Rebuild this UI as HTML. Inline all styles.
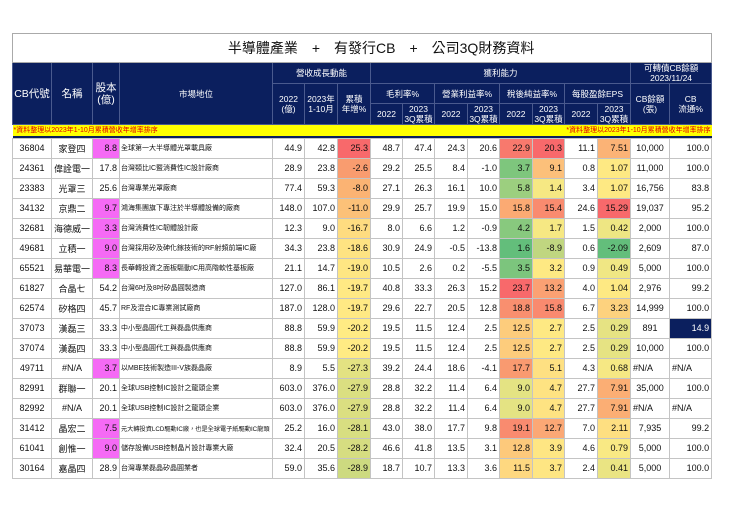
<!DOCTYPE html>
<html><head><meta charset="utf-8">
<style>
body{margin:0;width:740px;height:523px;background:#fff;overflow:hidden;font-family:"Liberation Sans","Noto Sans CJK TC",sans-serif;}
#wrap{position:absolute;left:12px;top:33px;width:699px;}
table{border-collapse:collapse;table-layout:fixed;width:699px;}
td{padding:0 2px;overflow:hidden;white-space:nowrap;font-size:9px;color:#111;border:1px solid #c4c4c4;height:19px;text-align:right;box-sizing:border-box;}
.title td{height:29px;border:1px solid #aaa;font-size:14px;text-align:center;color:#111;padding-left:40px;}
.hd td{background:#0b1f5e;color:#fff;text-align:center;font-size:8.5px;border:1px solid #4a5a8e;line-height:10px;height:auto;padding:0 1px;}
.big{font-size:10.5px !important;line-height:12px !important;}
.yl td{background:#ffff00;color:#e00000;font-size:7px;height:11px;border:none;padding:0 1px;line-height:11px;}
.strip td{background:#0b1f5e;height:2px;border:none;padding:0;}
td.l{text-align:left;font-size:7px;padding-left:1px;}
td.c{text-align:center;}
</style></head><body>
<div id="wrap">
<table id="t">
<colgroup>
<col style="width:39px"><col style="width:41px"><col style="width:27px"><col style="width:153px">
<col style="width:32px"><col style="width:33px"><col style="width:33px">
<col style="width:32px"><col style="width:32px"><col style="width:33px"><col style="width:32px">
<col style="width:33px"><col style="width:32px"><col style="width:33px"><col style="width:33px">
<col style="width:39px"><col style="width:42px">
</colgroup>
<tr class="title"><td colspan="17">半導體產業　+　有發行CB　+　公司3Q財務資料</td></tr>
<tr class="hd" style="height:21px">
<td rowspan="3" class="big">CB代號</td>
<td rowspan="3" class="big">名稱</td>
<td rowspan="3" class="big">股本<br>(億)</td>
<td rowspan="3">市場地位</td>
<td colspan="3">營收成長動能</td>
<td colspan="8">獲利能力</td>
<td colspan="2">可轉債CB餘額<br>2023/11/24</td>
</tr>
<tr class="hd" style="height:20px">
<td rowspan="2">2022<br>(億)</td>
<td rowspan="2">2023年<br>1-10月</td>
<td rowspan="2">累積<br>年增%</td>
<td colspan="2">毛利率%</td>
<td colspan="2">營業利益率%</td>
<td colspan="2">稅後純益率%</td>
<td colspan="2">每股盈餘EPS</td>
<td rowspan="2">CB餘額<br>(張)</td>
<td rowspan="2">CB<br>流通%</td>
</tr>
<tr class="hd" style="height:21px">
<td>2022</td><td>2023<br>3Q累積</td>
<td>2022</td><td>2023<br>3Q累積</td>
<td>2022</td><td>2023<br>3Q累積</td>
<td>2022</td><td>2023<br>3Q累積</td>
</tr>
<tr class="yl">
<td colspan="8" style="text-align:left">*資料整理以2023年1-10月累積營收年增率排序</td>
<td colspan="9" style="text-align:right">*資料整理以2023年1-10月累積營收年增率排序</td>
</tr>
<tr class="strip"><td colspan="17"></td></tr>
</table>
</div>
<script>
const codes=["36804","24361","23383","34132","32681","49681","65521","61827","62574","37073","37074","49711","82991","82992","31412","61041","30164"];
const names=["家登四","偉詮電一","光罩三","京鼎二","海德威一","立積一","易華電一","合晶七","矽格四","漢磊三","漢磊四","#N/A","群聯一","#N/A","晶宏二","創惟一","嘉晶四"];
const capital=["8.8","17.8","25.6","9.7","3.3","9.0","8.3","54.2","45.7","33.3","33.3","3.7","20.1","20.1","7.5","9.0","28.9"];
const capitalHighlight=[1,0,0,1,1,1,1,0,0,0,0,1,0,0,1,1,0];
const market=["全球第一大半導體光罩載具廠","台灣類比IC暨消費性IC設計廠商","台灣專業光罩廠商","鴻海集團旗下專注於半導體設備的廠商","台灣消費性IC韌體設計廠","台灣採用矽及砷化鎵技術的RF射頻前端IC廠","長華轉投資之面板驅動IC用高階軟性基板廠","台灣6吋及8吋矽晶圓製造商","RF及混合IC專業測試廠商","中小型晶圓代工與磊晶供應商","中小型晶圓代工與磊晶供應商","以MBE技術製造III-V族磊晶廠","全球USB控制IC設計之龍頭企業","全球USB控制IC設計之龍頭企業","元大轉投資LCD驅動IC廠，也是全球電子紙驅動IC龍頭","儲存設備USB控制晶片設計專業大廠","台灣專業磊晶矽晶圓業者"];
const rev2022=["44.9","28.9","77.4","148.0","12.3","34.3","21.1","127.0","187.0","88.8","88.8","8.9","603.0","603.0","25.2","32.4","59.0"];
const rev2023=["42.8","23.8","59.3","107.0","9.0","23.8","14.7","86.1","128.0","59.9","59.9","5.5","376.0","376.0","16.0","20.5","35.6"];
const revYoy=["25.3","-2.6","-8.0","-11.0","-16.7","-18.6","-19.0","-19.7","-19.7","-20.2","-20.2","-27.3","-27.9","-27.9","-28.1","-28.2","-28.9"];
const gm2022=["48.7","29.2","27.1","29.9","8.0","30.9","10.5","40.8","29.6","19.5","19.5","39.2","28.8","28.8","43.0","46.6","18.7"];
const gm2023=["47.4","25.5","26.3","25.7","6.6","24.9","2.6","33.3","22.7","11.5","11.5","24.4","32.2","32.2","38.0","41.8","10.7"];
const om2022=["24.3","8.4","16.1","19.9","1.2","-0.5","0.2","26.3","20.5","12.4","12.4","18.6","11.4","11.4","17.7","13.5","13.3"];
const om2023=["20.6","-1.0","10.0","15.0","-0.9","-13.8","-5.5","15.2","12.8","2.5","2.5","-4.1","6.4","6.4","9.8","3.1","3.6"];
const nm2022=["22.9","3.7","5.8","15.8","4.2","1.6","3.5","23.7","18.8","12.5","12.5","17.7","9.0","9.0","19.1","12.8","11.5"];
const nm2023=["20.3","9.1","1.4","15.4","1.7","-8.9","3.2","13.2","15.8","2.7","2.7","5.1","4.7","4.7","12.7","3.9","3.7"];
const eps2022=["11.1","0.8","3.4","24.6","1.5","0.6","0.9","4.0","6.7","2.5","2.5","4.3","27.7","27.7","7.0","4.6","2.4"];
const eps2023=["7.51","1.07","1.07","15.29","0.42","-2.09","0.49","1.04","3.23","0.29","0.29","0.68","7.91","7.91","2.11","0.79","0.41"];
const cbBalance=["10,000","11,000","16,756","19,037","2,000","2,609","5,000","2,976","14,999","891","10,000","#N/A","35,000","#N/A","7,935","5,000","5,000"];
const cbFloat=["100.0","100.0","83.8","95.2","100.0","87.0","100.0","99.2","100.0","14.9","100.0","#N/A","100.0","#N/A","99.2","100.0","100.0"];
const yoyColors=["#f8696b","#f99c6f","#fbb373","#fcc178","#fedc80","#fee382","#fee683","#ffe984","#ffe984","#ffeb84","#ffeb84","#e3e282","#dbdf81","#dbdf81","#d8de81","#d6dd81","#cdda80"];
const nm22Colors=["#f8796d","#7ec67d","#9ccf7f","#fbaa73","#88c97e","#63be7b","#7cc57d","#f8696b","#f98f6f","#fdcc7c","#fdcc7c","#f99a70","#e4e383","#e4e383","#f98b6f","#fdc97b","#fed880"];
const nm23Colors=["#f8696b","#fcc07a","#f6e883","#f98b6f","#f6e883","#c0d680","#fee983","#fba173","#f98a6f","#fee983","#fee983","#fee082","#fee382","#fee382","#fba875","#fee683","#fee683"];
const eps23Colors=["#fbb376","#fee983","#fee983","#f8696b","#eee683","#63be7b","#f0e784","#fee983","#fdd27e","#e6e383","#e6e383","#f6e884","#fbae74","#fbae74","#fedf81","#f9e984","#eae483"];
const t=document.getElementById('t');
for(let i=0;i<codes.length;i++){
  const tr=document.createElement('tr');
  
  
  tr.style.height='20px';
  const cells=[
    [codes[i],'cb-code','c',null],[names[i],'name','c',null],[capital[i],'capital','',capitalHighlight[i]?'#f56af5':null],
    [market[i],'market-position','l',null],[rev2022[i],'rev-2022','',null],[rev2023[i],'rev-2023','',null],[revYoy[i],'rev-yoy','',yoyColors[i]],
    [gm2022[i],'gm-2022','',null],[gm2023[i],'gm-2023','',null],[om2022[i],'om-2022','',null],[om2023[i],'om-2023','',null],
    [nm2022[i],'nm-2022','',nm22Colors[i]],[nm2023[i],'nm-2023','',nm23Colors[i]],[eps2022[i],'eps-2022','',null],[eps2023[i],'eps-2023','',eps23Colors[i]],
    [cbBalance[i],'cb-balance',cbBalance[i]==='#N/A'?'lft':'c',null],[cbFloat[i],'cb-float',cbFloat[i]==='#N/A'?'lft':'',cbFloat[i]==='14.9'?'#0b1f5e':null]
  ];
  cells.forEach(c=>{
    const td=document.createElement('td');
    
    
    td.textContent=c[0];
    if(c[2]==='l'){td.className='l';if(c[0].length>22)td.style.fontSize='6.2px';}
    else if(c[2]==='c')td.className='c';
    else if(c[2]==='lft')td.style.textAlign='left';
    if(c[3]){td.style.background=c[3];}
    if(c[0]==='14.9'&&c[1]==='cb-float'){td.style.color='#fff';}
    tr.appendChild(td);
  });
  t.appendChild(tr);
}
</script>
</body></html>
